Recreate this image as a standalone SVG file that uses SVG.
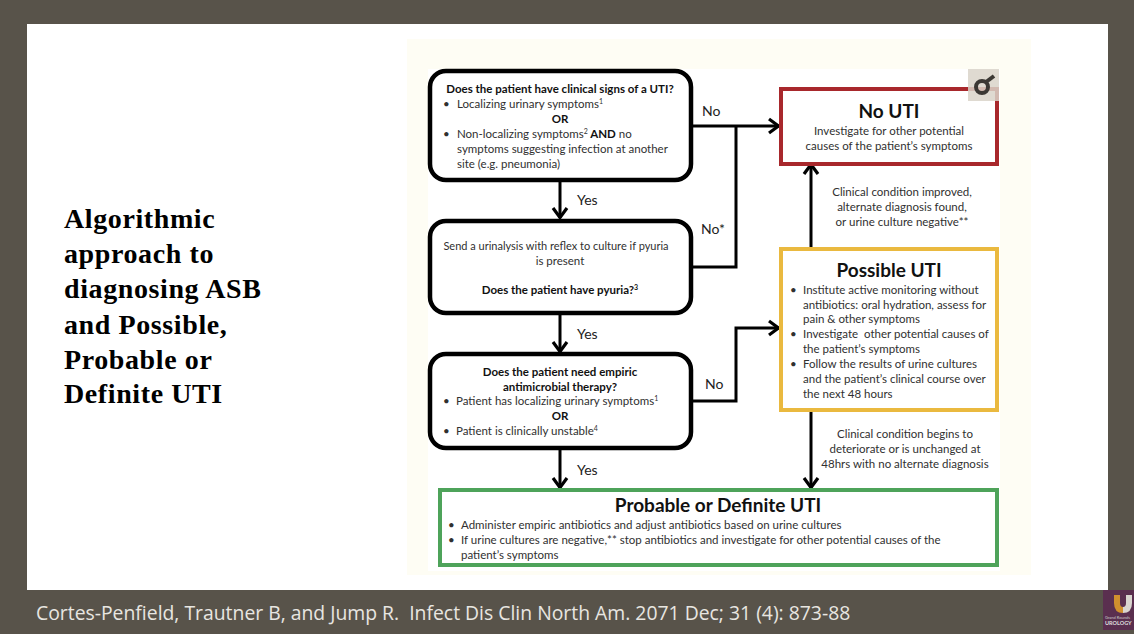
<svg xmlns="http://www.w3.org/2000/svg" width="1134" height="634" viewBox="0 0 1134 634">
<defs>
<marker id="arr" markerUnits="userSpaceOnUse" markerWidth="16" markerHeight="18" refX="13" refY="9" orient="auto"><path d="M3 2 L12.500 9 L3 16" fill="none" stroke="#000" stroke-width="3.200"/></marker>
</defs>
<style>
text{font-family:Lato,"Noto Sans","Liberation Sans",sans-serif;fill:#333}
.q{font-size:11.500px;fill:#303030}
.b{font-size:11.500px;font-weight:700;fill:#111}
.t{font-size:19px;font-weight:700;fill:#111}
.e{font-size:14px;fill:#222}
.m{text-anchor:middle}
.box{fill:#fff;stroke:#000;stroke-width:4.500}
.r{fill:#fff;stroke-width:4}
.c{fill:none;stroke:#000;stroke-width:3}
.h{font-family:"Liberation Serif",serif;font-size:28px;font-weight:700;fill:#000;letter-spacing:.6px}
.s{font-size:7px}
</style>
<rect width="1134" height="634" fill="#58534a"/>
<rect x="27" y="24" width="1081" height="566" fill="#fff"/>
<rect x="407" y="39" width="624" height="536" fill="#fefdf4"/>
<rect x="428" y="69" width="572" height="502" fill="#fff"/>

<g id="title">
<text class="h" x="64" y="228">Algorithmic</text>
<text class="h" x="64" y="263">approach to</text>
<text class="h" x="64" y="298">diagnosing ASB</text>
<text class="h" x="64" y="334">and Possible,</text>
<text class="h" x="64" y="369">Probable or</text>
<text class="h" x="64" y="403">Definite UTI</text>
</g>

<g id="connectors">
<path class="c" d="M691 126H779" marker-end="url(#arr)"/>
<path class="c" d="M691 267H736V126"/>
<path class="c" d="M691 401H736V328H779" marker-end="url(#arr)"/>
<path class="c" d="M560 181V218" marker-end="url(#arr)"/>
<path class="c" d="M560 314V352" marker-end="url(#arr)"/>
<path class="c" d="M560 449V488" marker-end="url(#arr)"/>
<path class="c" d="M811 248V164" marker-end="url(#arr)"/>
<path class="c" d="M811 410V488" marker-end="url(#arr)"/>
<text class="e" x="702" y="116">No</text>
<text class="e" x="701" y="234">No*</text>
<text class="e" x="705" y="389">No</text>
<text class="e" x="577" y="205">Yes</text>
<text class="e" x="577" y="339">Yes</text>
<text class="e" x="577" y="475">Yes</text>
<text class="q m" x="902" y="196">Clinical condition improved,</text>
<text class="q m" x="902" y="211">alternate diagnosis found,</text>
<text class="q m" x="902" y="226">or urine culture negative**</text>
<text class="q m" x="905" y="438">Clinical condition begins to</text>
<text class="q m" x="905" y="453">deteriorate or is unchanged at</text>
<text class="q m" x="905" y="468">48hrs with no alternate diagnosis</text>
</g>

<g id="node-signs">
<rect class="box" x="430" y="71" width="261" height="109" rx="16"/>
<text class="b m" x="560" y="93">Does the patient have clinical signs of a UTI?</text>
<text class="q" x="443" y="108">•</text><text class="q" x="457" y="108">Localizing urinary symptoms<tspan class="s" dy="-4">1</tspan></text>
<text class="b m" x="560" y="123">OR</text>
<text class="q" x="443" y="138">•</text><text class="q" x="457" y="138">Non-localizing symptoms<tspan class="s" dy="-4">2</tspan><tspan class="b" dy="4"> AND</tspan> no</text>
<text class="q" x="457" y="153">symptoms suggesting infection at another</text>
<text class="q" x="457" y="168">site (e.g. pneumonia)</text>
</g>

<g id="node-pyuria">
<rect class="box" x="430" y="221" width="261" height="92" rx="16"/>
<text class="q m" x="556" y="250" style="font-size:11px">Send a urinalysis with reflex to culture if pyuria</text>
<text class="q m" x="560" y="265">is present</text>
<text class="b m" x="560" y="294">Does the patient have pyuria?<tspan class="s" dy="-4">3</tspan></text>
</g>

<g id="node-empiric">
<rect class="box" x="430" y="354" width="261" height="94" rx="16"/>
<text class="b m" x="560" y="376">Does the patient need empiric</text>
<text class="b m" x="560" y="391">antimicrobial therapy?</text>
<text class="q" x="443" y="405">•</text><text class="q" x="456" y="405">Patient has localizing urinary symptoms<tspan class="s" dy="-4">1</tspan></text>
<text class="b m" x="560" y="420">OR</text>
<text class="q" x="443" y="435">•</text><text class="q" x="456" y="435">Patient is clinically unstable<tspan class="s" dy="-4">4</tspan></text>
</g>

<g id="node-no-uti">
<rect class="r" x="781" y="89" width="216" height="75" stroke="#a8282c"/>
<text class="t m" x="889" y="118">No UTI</text>
<text class="q m" x="889" y="135">Investigate for other potential</text>
<text class="q m" x="889" y="150">causes of the patient’s symptoms</text>
</g>

<g id="node-possible">
<rect class="r" x="781" y="249" width="216" height="161" stroke="#eab93f"/>
<text class="t m" x="889" y="277">Possible UTI</text>
<text class="q" x="790" y="294">•</text><text class="q" x="803" y="294">Institute active monitoring without</text>
<text class="q" x="803" y="309">antibiotics: oral hydration, assess for</text>
<text class="q" x="803" y="323">pain &amp; other symptoms</text>
<text class="q" x="790" y="338">•</text><text class="q" x="803" y="338" style="white-space:pre">Investigate  other potential causes of</text>
<text class="q" x="803" y="353">the patient’s symptoms</text>
<text class="q" x="790" y="368">•</text><text class="q" x="803" y="368">Follow the results of urine cultures</text>
<text class="q" x="803" y="383">and the patient’s clinical course over</text>
<text class="q" x="803" y="398">the next 48 hours</text>
</g>

<g id="node-probable">
<rect class="r" x="440" y="490" width="557" height="75" stroke="#4ea35a"/>
<text class="t m" x="718" y="512">Probable or Definite UTI</text>
<text class="q" x="448" y="529">•</text><text class="q" x="461" y="529">Administer empiric antibiotics and adjust antibiotics based on urine cultures</text>
<text class="q" x="448" y="544">•</text><text class="q" x="461" y="544">If urine cultures are negative,** stop antibiotics and investigate for other potential causes of the</text>
<text class="q" x="461" y="559">patient’s symptoms</text>
</g>

<rect x="968" y="69" width="31" height="32" fill="#d9d3c9" opacity="0.85"/>
<g fill="none" stroke="#3b3834"><circle cx="982" cy="87" r="6" stroke-width="4"/><path d="M986 82L994 76" stroke-width="4"/></g>

<text x="36" y="620" style="font-family:'Open Sans',sans-serif;font-size:19.370px;fill:#e8e6e1;white-space:pre">Cortes-Penfield, Trautner B, and Jump R.  Infect Dis Clin North Am. 2071 Dec; 31 (4): 873-88</text>
<rect x="1103" y="590" width="31" height="40" fill="#5a2f4f"/>
<path d="M1114 595V603Q1114 613 1123 613Q1123 609 1123 607Q1120 607 1120 603V595Z" fill="#d08f2e"/>
<path d="M1126 595V603Q1126 607 1123 607V613Q1132 613 1132 603V595Z" fill="#d9d5cf"/>
<text x="1105" y="619" style="font-size:4px;fill:#ccc">Grand Rounds</text>
<text x="1105" y="625" style="font-size:5.500px;font-weight:700;fill:#ddd">UROLOGY</text>
</svg>
